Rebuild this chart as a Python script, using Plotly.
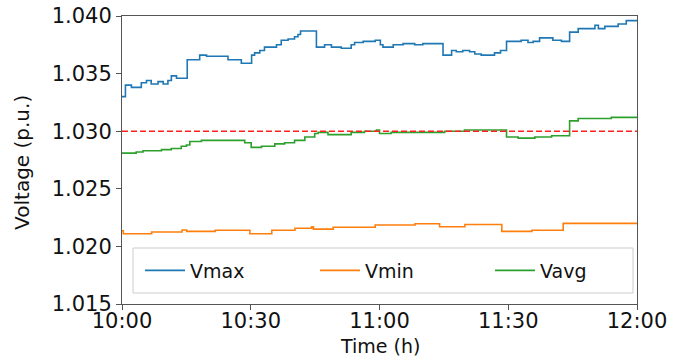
import pandas as pd
import plotly.graph_objects as go

# ---- data (minutes after 10:00, p.u. values) ----
vmax_t = [0, 0.8, 2.2, 4.5, 5.7, 6.8, 8.4, 9.6, 10.7, 11.5, 12.7, 15.2, 18.1, 19.7, 24.7, 27.8,
          30.2, 30.9, 32.1, 33.2, 36, 37.1, 38.7, 40.2, 41, 41.6, 45.3, 47.2, 48.8, 51.1, 53.4,
          54.2, 56.2, 59, 60.2, 60.8, 63.2, 65.5, 68.2, 70.1, 74.8, 76.8, 77.9, 79.4, 81, 82.2,
          83.7, 86.8, 88.2, 89.6, 93, 94.6, 95.8, 97.3, 100.4, 102.4, 104.3, 106.3, 110.2, 111,
          112.5, 115.6, 117.5, 120]
vmax_v = [1.0330, 1.0340, 1.0338, 1.0342, 1.0344, 1.0341, 1.0343, 1.0341, 1.0344, 1.0348, 1.0346,
          1.0362, 1.0366, 1.0365, 1.0362, 1.0359,
          1.0366, 1.0368, 1.0370, 1.0373, 1.0375, 1.0379, 1.0380, 1.0382, 1.0384, 1.0387, 1.0373,
          1.0375, 1.0373, 1.0372, 1.0375,
          1.0377, 1.0378, 1.0379, 1.0375, 1.0373, 1.0375, 1.0376, 1.0375, 1.0376, 1.0366, 1.0370,
          1.0369, 1.0370, 1.0369, 1.0367,
          1.0366, 1.0368, 1.0370, 1.0378, 1.0379, 1.0377, 1.0378, 1.0381, 1.0379, 1.0378, 1.0386,
          1.0389, 1.0392, 1.0389,
          1.0391, 1.0393, 1.0396, 1.0396]

vmin_t = [0, 0.3, 6.9, 14, 15.1, 21.7, 29.8, 34.9, 40.3, 44.2, 44.6, 49.2, 59, 68.3, 74, 79.9,
          88.5, 95.5, 102.8, 120]
vmin_v = [1.02136, 1.0211, 1.02125, 1.02142, 1.0213, 1.0214, 1.0211, 1.0214, 1.02157, 1.0217,
          1.0215, 1.02166, 1.02186, 1.02197, 1.0217, 1.0219, 1.0213, 1.0214, 1.0220, 1.0220]

vavg_t = [0, 3.3, 4.9, 6.4, 9.2, 11.5, 12.7, 13.8, 15.0, 15.8, 18.5, 25.5, 27.0, 28.6, 30.1,
          32.5, 35.6, 37.9, 40.2, 42.6, 44.9, 45.7, 48, 53.4, 56.5, 59.3, 60, 62.7, 67.4, 75.2,
          79.8, 89.6, 92.3, 96.2, 100.1, 104.3, 106.3, 114, 120]
vavg_v = [1.0281, 1.0282, 1.0283, 1.0283, 1.0284, 1.0285, 1.0285, 1.0287, 1.0288, 1.0291, 1.0292,
          1.0292, 1.0292, 1.0290, 1.0286,
          1.0287, 1.0289, 1.0290, 1.0292, 1.0295, 1.0298, 1.0299, 1.0297, 1.0299, 1.0300, 1.0301,
          1.0298, 1.0299, 1.0299, 1.0300,
          1.0301, 1.0295, 1.0294, 1.0295, 1.0296, 1.0309, 1.0311, 1.0312, 1.0312]

ref_level = 1.030
y_ticks = [1.015, 1.020, 1.025, 1.030, 1.035, 1.040]
y_tick_text = ["1.015", "1.020", "1.025", "1.030", "1.035", "1.040"]
x_title = "Time (h)"
y_title = "Voltage (p.u.)"

base = pd.Timestamp("2024-01-01 10:00")


def to_time(mins):
    return base + pd.to_timedelta(mins, unit="m")


FONT = "DejaVu Sans"
PW, PH = 515, 288   # plot area size in px
fig = go.Figure()
series = [("Vmax", vmax_t, vmax_v, "#1f77b4", "legend"),
          ("Vmin", vmin_t, vmin_v, "#ff7f0e", "legend2"),
          ("Vavg", vavg_t, vavg_v, "#2ca02c", "legend3")]
for name, t, v, c, lg in series:
    fig.add_trace(go.Scatter(x=to_time(t), y=v, mode="lines", name=name, legend=lg,
                             line=dict(color=c, width=1.6, shape="hv")))

fig.add_trace(go.Scatter(x=to_time([0, 120]), y=[ref_level, ref_level], mode="lines",
                         showlegend=False,
                         line=dict(color="#ff2020", width=1.5, dash="6px,3px")))


def leg(xpx):
    return dict(x=(xpx - 122) / PW, xanchor="left", y=(304 - 270.5) / PH, yanchor="middle",
                borderwidth=0, bgcolor="rgba(0,0,0,0)", font=dict(size=19, family=FONT),
                itemwidth=40)


fig.update_layout(
    width=673, height=358,
    margin=dict(l=122, r=36, t=16, b=54),
    paper_bgcolor="white", plot_bgcolor="white",
    font=dict(family=FONT, size=21, color="#111"),
    legend=leg(140), legend2=leg(315), legend3=leg(490),
    shapes=[dict(type="rect", xref="paper", yref="paper",
                 x0=(133 - 122) / PW, x1=(633 - 122) / PW,
                 y0=(304 - 293) / PH, y1=(304 - 248) / PH,
                 line=dict(color="#cccccc", width=1), fillcolor="rgba(255,255,255,0.85)",
                 layer="above")],
    annotations=[
        dict(text=x_title, xref="paper", yref="paper", x=0.5, y=-42 / PH,
             xanchor="center", yanchor="middle", showarrow=False, borderpad=0,
             font=dict(size=19)),
        dict(text=y_title, xref="paper", yref="paper", x=-100 / PW, y=0.49, textangle=-90,
             xanchor="center", yanchor="middle", showarrow=False, font=dict(size=20)),
    ],
)
fig.update_xaxes(range=[to_time(0), to_time(120)], tickformat="%H:%M", dtick=30 * 60 * 1000,
                 showgrid=False, zeroline=False, showline=True, mirror=True, automargin=False,
                 linecolor="#555", linewidth=1, ticks="outside", ticklen=5, tickcolor="#555",
                 tickfont=dict(size=21), ticklabeloverflow="allow", ticklabelstandoff=-7)
fig.update_yaxes(range=[1.015, 1.040], tickvals=y_ticks, ticktext=y_tick_text,
                 showgrid=False, zeroline=False, showline=True, mirror=True, automargin=False,
                 linecolor="#555", linewidth=1, ticks="outside", ticklen=5, tickcolor="#555",
                 tickfont=dict(size=21), ticklabeloverflow="allow")

fig.write_html("out.html", config={"displayModeBar": False},
               post_script="document.body.style.margin='0';")
